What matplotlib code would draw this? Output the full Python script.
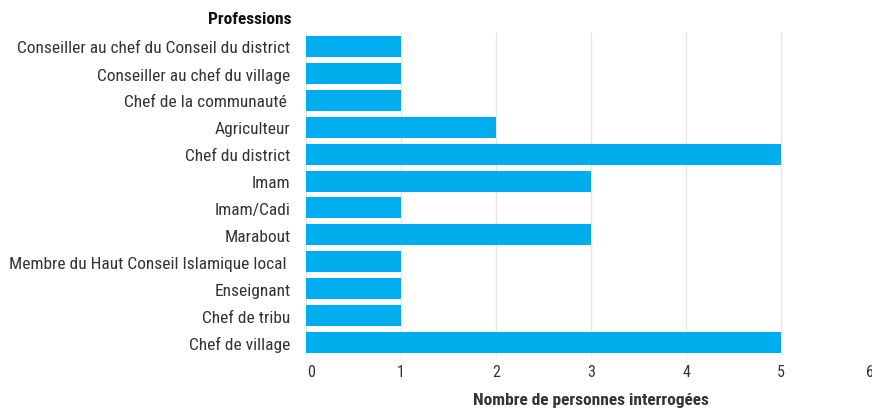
import matplotlib
matplotlib.use("Agg")
import matplotlib.pyplot as plt
from matplotlib import font_manager
from matplotlib.transforms import ScaledTranslation

professions = [
    "Conseiller au chef du Conseil du district",
    "Conseiller au chef du village",
    "Chef de la communauté ",
    "Agriculteur",
    "Chef du district",
    "Imam",
    "Imam/Cadi",
    "Marabout",
    "Membre du Haut Conseil Islamique local ",
    "Enseignant",
    "Chef de tribu",
    "Chef de village",
]
counts = [1, 1, 1, 2, 5, 3, 1, 3, 1, 1, 1, 5]
xticks = [0, 1, 2, 3, 4, 5, 6]

names = {f.name for f in font_manager.fontManager.ttflist}
family = "Roboto Condensed" if "Roboto Condensed" in names else "Roboto"
plt.rcParams["font.family"] = [family, "DejaVu Sans"]

text_col = "#333333"
bar_col = "#00AEEF"

fig = plt.figure(figsize=(8.72, 4.10), dpi=100)
ax = fig.add_axes([306 / 872, 1 - 357 / 410, 570 / 872, 323 / 410])

ypos = list(range(len(professions)))
ax.barh(ypos, counts, height=0.78, color=bar_col, zorder=2)
ax.set_ylim(len(professions) - 0.5, -0.5)
ax.set_xlim(0, 6)
ax.set_xticks(xticks)
ax.set_yticks(ypos)
ax.set_yticklabels(professions, fontsize=12.5, color=text_col)
ax.tick_params(axis="y", length=0, pad=11)
ax.tick_params(axis="x", length=0, pad=6, labelsize=11.5, labelcolor=text_col)
ax.grid(axis="x", color="#e6e6e6", linewidth=1, zorder=0)
for s in ax.spines.values():
    s.set_visible(False)

# edge labels pulled inward, like the original
ticks = ax.xaxis.get_major_ticks()
for t, dx in ((ticks[0], 5), (ticks[-1], -6)):
    lab = t.label1
    lab.set_transform(lab.get_transform() + ScaledTranslation(dx / 100, 0, fig.dpi_scale_trans))

ax.set_xlabel("Nombre de personnes interrogées", fontsize=12.5, fontweight="bold",
              color=text_col, labelpad=9)
fig.text(291 / 872, 1 - 20 / 410, "Professions", fontsize=12.5, fontweight="bold",
         color="#111111", ha="right", va="center")

fig.savefig("out.png", dpi=100)
